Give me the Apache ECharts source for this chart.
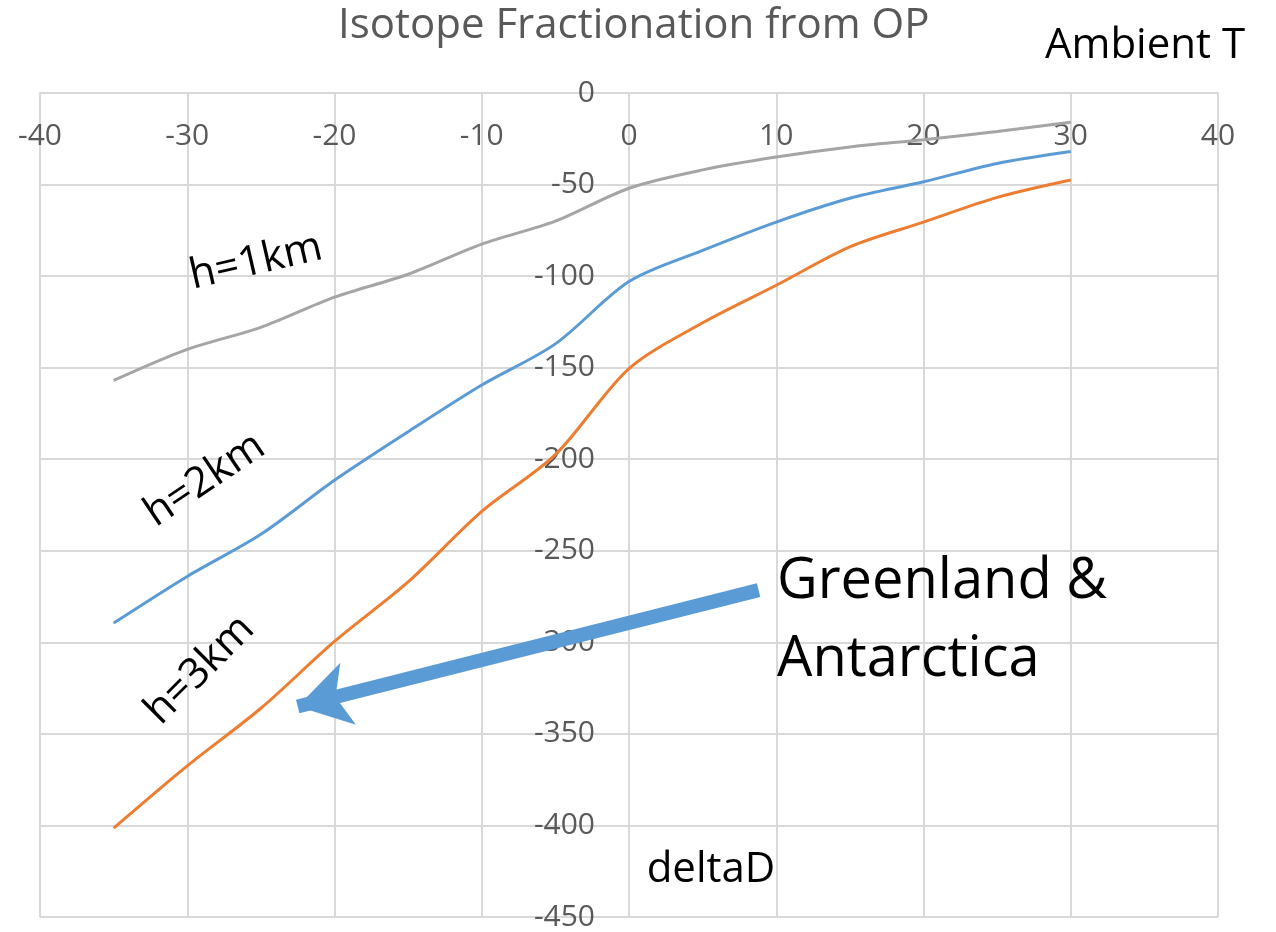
<!DOCTYPE html>
<html>
<head>
<meta charset="utf-8">
<script src="https://cdn.jsdelivr.net/npm/echarts@6/dist/echarts.min.js"></script>
<style>
  html, body { margin: 0; padding: 0; background: #fff; }
  #chart { width: 1276px; height: 932px; }
</style>
</head>
<body>
<div id="chart"></div>
<script>
// Ambient temperature (°C) at which deltaD was evaluated
const ambientT = [-35, -30, -25, -20, -15, -10, -5, 0, 5, 10, 15, 20, 25, 30];

// deltaD for each orographic lifting height
const h1km = [-157, -140, -128, -111.5, -99, -82.5, -70, -52, -42, -35, -29.5, -25.5, -21, -16];
const h2km = [-289.5, -264, -241, -211.5, -185, -159.5, -137, -103, -86, -70.5, -57.5, -48.5, -38.5, -32];
const h3km = [-401.5, -367.5, -336, -299.5, -267, -228.5, -197.5, -150.5, -125.5, -105, -84, -70.5, -57, -47.5];

// Arrow pointing toward the polar ice-sheet regime (T, deltaD)
const arrowFrom = [8.8, -271.5];
const arrowTo = [-22.5, -335];

const xTicks = { min: -40, max: 40, interval: 10 };
const yTicks = { min: -450, max: 0, interval: 50 };

const FONT = 'Open Sans';
const pair = (xs, ys) => xs.map((x, i) => [x, ys[i]]);

// plot area
const GRID = { left: 40, right: 58, top: 93, bottom: 15 };
const plotWidth = 1276 - GRID.left - GRID.right;

const chart = echarts.init(document.getElementById('chart'));

const lineSeries = (name, ys, color) => ({
  name, type: 'line', data: pair(ambientT, ys), smooth: 0.3,
  showSymbol: false, lineStyle: { color, width: 3 }, itemStyle: { color },
  z: 3
});

const axisCommon = {
  axisLine: { show: true, onZero: true, lineStyle: { color: '#d9d9d9', width: 2 } },
  axisTick: { show: false },
  splitLine: { lineStyle: { color: '#d9d9d9', width: 2 } }
};

const label = (text, x, y, size, rot, align) => ({
  type: 'text', x, y, rotation: (rot || 0) * Math.PI / 180, z: 10,
  style: { text, font: size + 'px "Open Sans"', fill: '#000', align: align || 'center', verticalAlign: 'middle' }
});

chart.setOption({
  animation: false,
  title: {
    text: 'Isotope Fractionation from OP', left: 333, top: 0,
    textStyle: { fontFamily: FONT, fontSize: 42, fontWeight: 'normal', color: '#595959' }
  },
  grid: Object.assign({ outerBoundsMode: 'none', containLabel: false }, GRID),
  xAxis: Object.assign({
    type: 'value', ...xTicks, position: 'top',
    axisLabel: { inside: true, margin: 28, fontFamily: FONT, fontSize: 30, color: '#595959' }
  }, axisCommon),
  yAxis: Object.assign({
    type: 'value', ...yTicks,
    // the value axis runs through T = 0, the middle of the x range
    offset: -plotWidth * (0 - xTicks.min) / (xTicks.max - xTicks.min),
    axisLabel: { margin: 34, fontFamily: FONT, fontSize: 30, color: '#595959' }
  }, axisCommon),
  series: [
    lineSeries('h=1km', h1km, '#a5a5a5'),
    lineSeries('h=2km', h2km, '#5b9bd5'),
    Object.assign(lineSeries('h=3km', h3km, '#ed7d31'), {
      markLine: {
        silent: true, animation: false,
        symbol: ['none', 'arrow'], symbolSize: [48, 52],
        label: { show: false },
        lineStyle: { color: '#5b9bd5', width: 14, type: 'solid' },
        data: [[{ coord: arrowFrom }, { coord: arrowTo }]]
      }
    })
  ],
  graphic: [
    label('Ambient T', 1145, 46, 42),
    label('deltaD', 711, 870, 42),
    label('h=1km', 256, 262, 42, 13),
    label('h=2km', 205, 480, 42, 34),
    label('h=3km', 200, 670, 42, 45),
    label('Greenland &', 777, 582, 56, 0, 'left'),
    label('Antarctica', 777, 660, 56, 0, 'left')
  ]
});
</script>
</body>
</html>
